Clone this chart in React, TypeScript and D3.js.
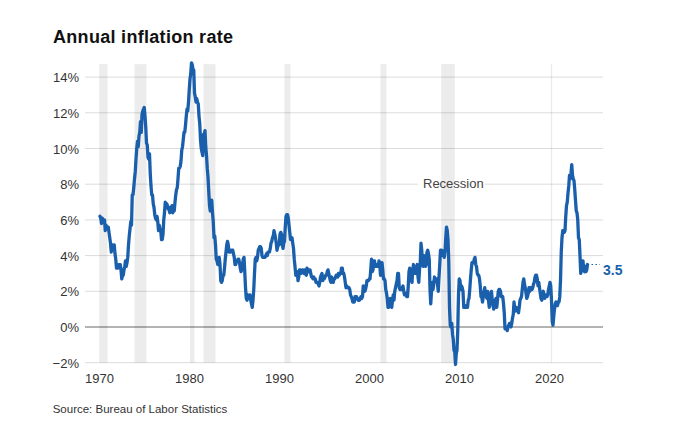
import React from "react";
import * as d3 from "d3";

// Monthly year-over-year CPI change (%), starting January of each decade
const cpi1970s = [
  6.2, 6.1, 5.8, 6.1, 6.0, 6.0, 6.0, 5.4, 5.7, 5.6, 5.6, 5.6,
  5.3, 5.0, 4.7, 4.2, 4.4, 4.6, 4.4, 4.6, 4.1, 3.8, 3.3, 3.3,
  3.3, 3.5, 3.5, 3.5, 3.2, 2.7, 2.9, 2.9, 3.2, 3.4, 3.7, 3.4,
  3.6, 3.9, 4.6, 5.1, 5.5, 5.9, 5.7, 7.4, 7.4, 7.8, 8.3, 8.7,
  9.4, 10.0, 10.4, 10.1, 10.7, 10.9, 11.5, 10.9, 11.9, 12.1, 12.2, 12.3,
  11.8, 11.2, 10.3, 10.2, 9.5, 9.4, 9.7, 8.6, 7.9, 7.4, 7.4, 6.9,
  6.7, 6.3, 6.1, 6.0, 6.2, 5.9, 5.4, 5.7, 5.5, 5.4, 4.9, 4.9,
  5.2, 6.0, 6.4, 7.0, 6.7, 6.9, 6.8, 6.6, 6.6, 6.4, 6.7, 6.7,
  6.8, 6.4, 6.6, 6.5, 7.0, 7.4, 7.7, 7.8, 8.3, 8.9, 8.9, 9.0,
  9.3, 9.9, 10.1, 10.5, 10.9, 10.9, 11.3, 11.8, 12.2, 12.1, 12.6, 13.3,
];
const cpi1980s = [
  13.9, 14.2, 14.8, 14.7, 14.4, 14.4, 13.1, 12.9, 12.6, 12.8, 12.6, 12.5,
  11.8, 11.4, 10.5, 10.0, 9.8, 9.6, 10.8, 10.8, 11.0, 10.1, 9.6, 8.9,
  8.4, 7.6, 6.8, 6.5, 6.7, 7.1, 6.4, 5.9, 5.0, 5.1, 4.6, 3.8,
  3.7, 3.5, 3.6, 3.9, 3.5, 2.6, 2.5, 2.6, 2.9, 2.9, 3.3, 3.8,
  4.2, 4.6, 4.8, 4.6, 4.2, 4.2, 4.2, 4.3, 4.3, 4.3, 4.1, 3.9,
  3.5, 3.5, 3.7, 3.7, 3.8, 3.8, 3.6, 3.3, 3.1, 3.2, 3.5, 3.8,
  3.9, 3.1, 2.2, 1.6, 1.5, 1.8, 1.6, 1.6, 1.8, 1.5, 1.3, 1.1,
  1.5, 2.1, 3.0, 3.8, 3.9, 3.7, 3.9, 4.3, 4.4, 4.5, 4.5, 4.4,
  4.0, 3.9, 3.9, 3.9, 3.9, 4.0, 4.1, 4.0, 4.2, 4.2, 4.2, 4.4,
  4.7, 4.8, 5.0, 5.1, 5.4, 5.2, 5.0, 4.7, 4.3, 4.5, 4.7, 4.6,
];
const cpi1990s = [
  5.2, 5.3, 5.2, 4.7, 4.4, 4.7, 4.8, 5.6, 6.2, 6.3, 6.3, 6.1,
  5.7, 5.3, 4.9, 4.9, 5.0, 4.7, 4.4, 3.8, 3.4, 2.9, 3.0, 3.1,
  2.6, 2.8, 3.2, 3.2, 3.0, 3.1, 3.2, 3.1, 3.0, 3.2, 3.0, 2.9,
  3.3, 3.2, 3.1, 3.2, 3.2, 3.0, 2.8, 2.8, 2.7, 2.8, 2.7, 2.7,
  2.5, 2.5, 2.5, 2.4, 2.3, 2.5, 2.8, 2.9, 3.0, 2.6, 2.7, 2.7,
  2.8, 2.9, 2.9, 3.1, 3.2, 3.0, 2.8, 2.6, 2.5, 2.8, 2.6, 2.5,
  2.7, 2.7, 2.8, 2.9, 2.9, 2.8, 3.0, 2.9, 3.0, 3.0, 3.3, 3.3,
  3.0, 3.0, 2.8, 2.5, 2.2, 2.3, 2.2, 2.2, 2.2, 2.1, 1.8, 1.7,
  1.6, 1.4, 1.4, 1.4, 1.7, 1.7, 1.7, 1.6, 1.5, 1.5, 1.5, 1.6,
  1.7, 1.6, 1.7, 2.3, 2.1, 2.0, 2.1, 2.3, 2.6, 2.6, 2.6, 2.7,
];
const cpi2000s = [
  2.7, 3.2, 3.8, 3.1, 3.2, 3.7, 3.7, 3.4, 3.5, 3.4, 3.4, 3.4,
  3.7, 3.5, 2.9, 3.3, 3.6, 3.2, 2.7, 2.7, 2.6, 2.1, 1.9, 1.6,
  1.1, 1.1, 1.5, 1.6, 1.2, 1.1, 1.5, 1.8, 1.5, 2.0, 2.2, 2.4,
  2.6, 3.0, 3.0, 2.2, 2.1, 2.1, 2.1, 2.2, 2.3, 2.0, 1.8, 1.9,
  1.9, 1.7, 1.7, 2.3, 3.1, 3.3, 3.0, 2.7, 2.5, 3.2, 3.5, 3.3,
  3.0, 3.0, 3.1, 3.5, 2.8, 2.5, 3.2, 3.6, 4.7, 4.3, 3.5, 3.4,
  4.0, 3.6, 3.4, 3.5, 4.2, 4.3, 4.1, 3.8, 2.1, 1.3, 2.0, 2.5,
  2.1, 2.4, 2.8, 2.6, 2.7, 2.7, 2.4, 2.0, 2.8, 3.5, 4.3, 4.1,
  4.3, 4.0, 4.0, 3.9, 4.2, 5.0, 5.6, 5.4, 4.9, 3.7, 1.1, 0.1,
  0.0, 0.2, -0.4, -0.7, -1.3, -1.4, -2.1, -1.5, -1.3, -0.2, 1.8, 2.7,
];
const cpi2010s = [
  2.6, 2.1, 2.3, 2.2, 2.0, 1.1, 1.2, 1.1, 1.1, 1.2, 1.1, 1.5,
  1.6, 2.1, 2.7, 3.2, 3.6, 3.6, 3.6, 3.8, 3.9, 3.5, 3.4, 3.0,
  2.9, 2.9, 2.7, 2.3, 1.7, 1.7, 1.4, 1.7, 2.0, 2.2, 1.8, 1.7,
  1.6, 2.0, 1.5, 1.1, 1.4, 1.8, 2.0, 1.5, 1.2, 1.0, 1.2, 1.5,
  1.6, 1.1, 1.5, 2.0, 2.1, 2.1, 2.0, 1.7, 1.7, 1.7, 1.3, 0.8,
  -0.1, 0.0, -0.1, -0.2, 0.0, 0.1, 0.2, 0.2, 0.0, 0.2, 0.5, 0.7,
  1.4, 1.0, 0.9, 1.1, 1.0, 1.0, 0.8, 1.1, 1.5, 1.6, 1.7, 2.1,
  2.5, 2.7, 2.4, 2.2, 1.9, 1.6, 1.7, 1.9, 2.2, 2.0, 2.2, 2.1,
  2.1, 2.2, 2.4, 2.5, 2.8, 2.9, 2.9, 2.7, 2.3, 2.5, 2.2, 1.9,
  1.6, 1.5, 1.9, 2.0, 1.8, 1.6, 1.8, 1.7, 1.7, 1.8, 2.1, 2.3,
];
const cpi2020s = [
  2.5, 2.3, 1.5, 0.3, 0.1, 0.6, 1.0, 1.3, 1.4, 1.2, 1.2, 1.4,
  1.4, 1.7, 2.6, 4.2, 5.0, 5.4, 5.4, 5.3, 5.4, 6.2, 6.8, 7.0,
  7.5, 7.9, 8.5, 8.3, 8.6, 9.1, 8.5, 8.3, 8.2, 7.7, 7.1, 6.5,
  6.4, 6.0, 5.0, 4.9, 4.0, 3.0, 3.2, 3.7, 3.7, 3.2, 3.1, 3.4,
  3.1, 3.2, 3.5,
];
const startYear = 1970;

// Recessions: [start year, start month, end year, end month]
const recessions: [number, number, number, number][] = [
  [1969, 12, 1970, 11],
  [1973, 11, 1975, 3],
  [1980, 1, 1980, 7],
  [1981, 7, 1982, 11],
  [1990, 7, 1991, 3],
  [2001, 3, 2001, 11],
  [2007, 12, 2009, 6],
  [2020, 2, 2020, 4],
];

const yTicks = [-2, 0, 2, 4, 6, 8, 10, 12, 14];
const xTicks = [1970, 1980, 1990, 2000, 2010, 2020];
const title = "Annual inflation rate";
const source = "Source: Bureau of Labor Statistics";
const recessionLabel = "Recession";
const lastLabel = "3.5";

const FONT = '"Liberation Sans", Arial, Helvetica, sans-serif';
const BLUE = "#1a5fac";

export default function App() {
  const values = [
    ...cpi1970s,
    ...cpi1980s,
    ...cpi1990s,
    ...cpi2000s,
    ...cpi2010s,
    ...cpi2020s,
  ];
  const data = values.map((v, i) => ({ t: startYear + i / 12, v }));

  const x = d3.scaleLinear().domain([1970, 2020]).range([100, 550]);
  const y = d3.scaleLinear().domain([-2, 14]).range([362.7, 77.1]);
  const gridL = 85;
  const gridR = 603;

  const line = d3
    .line<{ t: number; v: number }>()
    .x((d) => x(d.t))
    .y((d) => y(d.v));

  const last = data[data.length - 1];
  const ym = (yr: number, m: number) => yr + (m - 1) / 12;

  return (
    <svg
      width={689}
      height={427}
      style={{ position: "absolute", left: 0, top: 0, background: "#fff" }}
      fontFamily={FONT}
    >
      <rect x={0} y={0} width={689} height={427} fill="#fff" />
      <text x={53} y={42.7} fontSize={18} fontWeight={700} fill="#111" letterSpacing={0.3}>
        {title}
      </text>

      {/* gridlines */}
      {yTicks.map((t) => (
        <line
          key={"g" + t}
          x1={gridL}
          x2={gridR}
          y1={y(t)}
          y2={y(t)}
          stroke={t === 0 ? "#9a9a9a" : "#dcdcdc"}
          strokeWidth={t === 0 ? 1.3 : 1}
        />
      ))}

      {/* gap in gridline behind the Recession label */}
      <rect x={418} y={182} width={67} height={5} fill="#fff" />

      {/* recession bars */}
      {recessions.map((r, i) => {
        const x0 = x(ym(r[0], r[1]));
        const x1 = x(ym(r[2], r[3]));
        return (
          <rect
            key={"r" + i}
            x={x0}
            y={y(14) - 13}
            width={Math.max(1.5, x1 - x0)}
            height={y(-2) - (y(14) - 13)}
            fill="#000"
            fillOpacity={0.075}
          />
        );
      })}

      {/* y labels */}
      {yTicks.map((t) => (
        <text
          key={"yl" + t}
          x={79}
          y={y(t) + 5}
          fontSize={13}
          textAnchor="end"
          fill="#333"
        >
          {t < 0 ? "\u2212" + Math.abs(t) + "%" : t + "%"}
        </text>
      ))}

      {/* x labels */}
      {xTicks.map((t) => (
        <text
          key={"xl" + t}
          x={x(t) - 0.5}
          y={383}
          fontSize={13}
          textAnchor="middle"
          fill="#333"
        >
          {t}
        </text>
      ))}

      <text x={423} y={188.3} fontSize={13} fill="#444">
        {recessionLabel}
      </text>

      {/* main line */}
      <path
        d={line(data) || ""}
        fill="none"
        stroke={BLUE}
        strokeWidth={3.3}
        strokeLinejoin="round"
        strokeLinecap="round"
      />

      {/* leader to end label */}
      <line
        x1={x(last.t) + 4}
        x2={600}
        y1={y(last.v)}
        y2={y(last.v)}
        stroke={BLUE}
        strokeWidth={1}
        strokeDasharray="1.5,2.5"
      />
      <text x={603} y={y(last.v) + 10} fontSize={14} fontWeight={700} fill={BLUE}>
        {lastLabel}
      </text>

      <text x={52.7} y={412.7} fontSize={11.5} fill="#333">
        {source}
      </text>
    </svg>
  );
}
